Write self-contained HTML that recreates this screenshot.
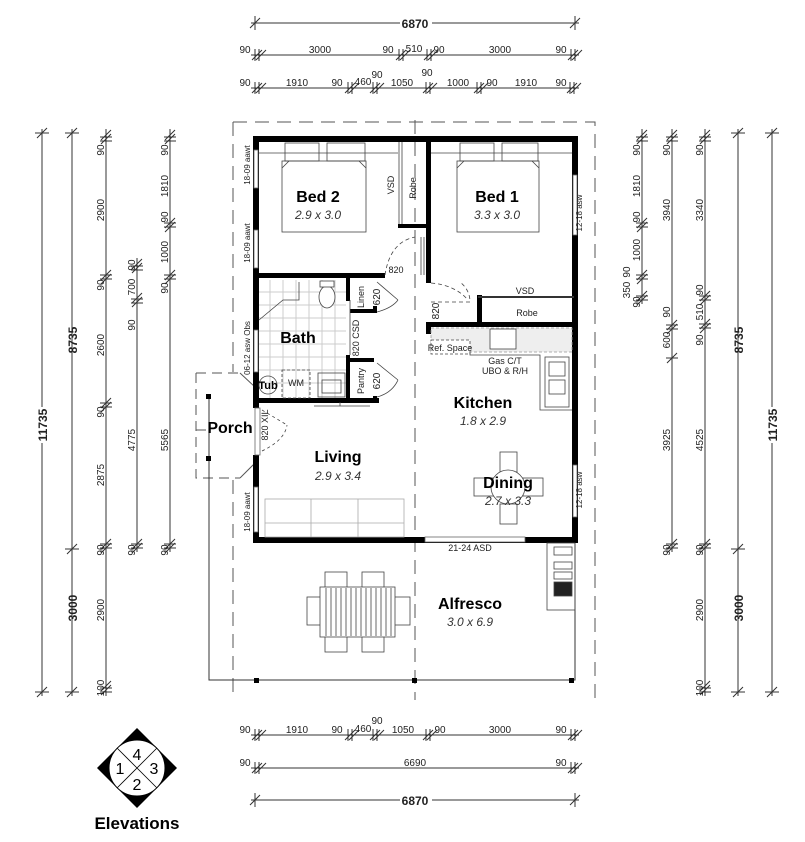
<!DOCTYPE html>
<html><head><meta charset="utf-8"><style>
html,body{margin:0;padding:0;background:#fff}
svg{display:block}
text{font-family:"Liberation Sans",sans-serif}
.d{font-size:10px;fill:#222}
.b{font-weight:bold;font-size:12px}
.r{font-weight:bold;font-size:16px;fill:#000}
.s{font-style:italic;font-size:12px;fill:#333}
.sm{font-size:9px;fill:#222}
</style></head><body>
<svg width="805" height="842" viewBox="0 0 805 842" xmlns="http://www.w3.org/2000/svg">
<g stroke="#333" stroke-width="1" fill="none">
<line x1="251" y1="23" x2="579" y2="23"/>
<path d="M250 28L260 18M255 16V30M570 28L580 18M575 16V30"/>
<line x1="251" y1="55" x2="579" y2="55"/>
<path d="M252 60L262 50M256 60L266 50M255 49V61M259 49V61 M396 60L406 50M400 60L410 50M399 49V61M403 49V61 M424 60L434 50M428 60L438 50M427 49V61M431 49V61 M568 60L578 50M572 60L582 50M571 49V61M575 49V61"/>
<line x1="251" y1="88" x2="579" y2="88"/>
<path d="M252 93L262 83M256 93L266 83M255 82V94M259 82V94 M345 93L355 83M349 93L359 83M348 82V94M352 82V94 M370 93L380 83M374 93L384 83M373 82V94M377 82V94 M423 93L433 83M427 93L437 83M426 82V94M430 82V94 M474 93L484 83M478 93L488 83M477 82V94M481 82V94 M567 93L577 83M571 93L581 83M570 82V94M574 82V94"/>
<line x1="251" y1="735" x2="579" y2="735"/>
<path d="M252 740L262 730M256 740L266 730M255 729V741M259 729V741 M345 740L355 730M349 740L359 730M348 729V741M352 729V741 M370 740L380 730M374 740L384 730M373 729V741M377 729V741 M423 740L433 730M427 740L437 730M426 729V741M430 729V741 M568 740L578 730M572 740L582 730M571 729V741M575 729V741"/>
<line x1="251" y1="768" x2="579" y2="768"/>
<path d="M252 773L262 763M256 773L266 763M255 762V774M259 762V774 M568 773L578 763M572 773L582 763M571 762V774M575 762V774"/>
<line x1="251" y1="800" x2="579" y2="800"/>
<path d="M250 805L260 795M255 793V807M570 805L580 795M575 793V807"/>
<line x1="42" y1="129" x2="42" y2="696"/>
<path d="M37 138L47 128M35 133H49M37 697L47 687M35 692H49"/>
<line x1="72" y1="129" x2="72" y2="696"/>
<path d="M67 138L77 128M65 133H79M67 554L77 544M65 549H79M67 697L77 687M65 692H79"/>
<line x1="106" y1="129" x2="106" y2="696"/>
<path d="M101 140L111 130M101 144L111 134M100 137H112M100 141H112 M101 280L111 270M101 284L111 274M100 275H112M100 279H112 M101 408L111 398M101 412L111 402M100 403H112M100 407H112 M101 549L111 539M101 553L111 543M100 544H112M100 548H112 M101 691L111 681M101 695L111 685M100 688H112M100 692H112"/>
<line x1="137" y1="258" x2="137" y2="552"/>
<path d="M132 269L142 259M132 273L142 263M131 266H143M131 270H143 M132 303L142 293M132 307L142 297M131 299H143M131 303H143 M132 549L142 539M132 553L142 543M131 544H143M131 548H143"/>
<line x1="170" y1="129" x2="170" y2="552"/>
<path d="M165 140L175 130M165 144L175 134M164 137H176M164 141H176 M165 228L175 218M165 232L175 222M164 223H176M164 227H176 M165 280L175 270M165 284L175 274M164 275H176M164 279H176 M165 549L175 539M165 553L175 543M164 544H176M164 548H176"/>
<line x1="642" y1="129" x2="642" y2="304"/>
<path d="M637 140L647 130M637 144L647 134M636 137H648M636 141H648 M637 228L647 218M637 232L647 222M636 223H648M636 227H648 M637 280L647 270M637 284L647 274M636 275H648M636 279H648 M637 301L647 291M637 305L647 295M636 296H648M636 300H648"/>
<line x1="672" y1="129" x2="672" y2="552"/>
<path d="M667 140L677 130M667 144L677 134M666 137H678M666 141H678 M667 330L677 320M667 334L677 324M666 325H678M666 329H678 M667 363L677 353M666 358H678 M667 549L677 539M667 553L677 543M666 544H678M666 548H678"/>
<line x1="705" y1="129" x2="705" y2="696"/>
<path d="M700 140L710 130M700 144L710 134M699 137H711M699 141H711 M700 301L710 291M700 305L710 295M699 296H711M699 300H711 M700 329L710 319M700 333L710 323M699 324H711M699 328H711 M700 549L710 539M700 553L710 543M699 544H711M699 548H711 M700 691L710 681M700 695L710 685M699 688H711M699 692H711"/>
<line x1="738" y1="129" x2="738" y2="696"/>
<path d="M733 138L743 128M731 133H745M733 554L743 544M731 549H745M733 697L743 687M731 692H745"/>
<line x1="772" y1="129" x2="772" y2="696"/>
<path d="M767 138L777 128M765 133H779M767 697L777 687M765 692H779"/>
</g>
<g class="d" text-anchor="middle">
<rect x="400" y="15" width="32" height="14" fill="#fff"/>
<text x="415" y="28" class="b">6870</text>
<text x="245" y="53">90</text><text x="320" y="53">3000</text><text x="388" y="53">90</text><text x="414" y="52">510</text><text x="439" y="53">90</text><text x="500" y="53">3000</text><text x="561" y="53">90</text>
<text x="245" y="86">90</text><text x="297" y="86">1910</text><text x="337" y="86">90</text><text x="363" y="85">460</text><text x="377" y="78">90</text><text x="402" y="86">1050</text><text x="427" y="76">90</text><text x="458" y="86">1000</text><text x="492" y="86">90</text><text x="526" y="86">1910</text><text x="561" y="86">90</text>
<text x="245" y="733">90</text><text x="297" y="733">1910</text><text x="337" y="733">90</text><text x="363" y="732">460</text><text x="377" y="724">90</text><text x="403" y="733">1050</text><text x="440" y="733">90</text><text x="500" y="733">3000</text><text x="561" y="733">90</text>
<text x="245" y="766">90</text><text x="415" y="766">6690</text><text x="561" y="766">90</text>
<rect x="400" y="792" width="32" height="14" fill="#fff"/>
<text x="415" y="805" class="b">6870</text>
</g>
<g class="d" text-anchor="middle">
<rect x="35" y="407" width="14" height="36" fill="#fff"/>
<text transform="translate(47,425) rotate(-90)" class="b">11735</text>
<text transform="translate(77,340) rotate(-90)" class="b">8735</text>
<text transform="translate(77,608) rotate(-90)" class="b">3000</text>
<text transform="translate(104,150) rotate(-90)">90</text><text transform="translate(104,210) rotate(-90)">2900</text><text transform="translate(104,285) rotate(-90)">90</text><text transform="translate(104,345) rotate(-90)">2600</text><text transform="translate(104,412) rotate(-90)">90</text><text transform="translate(104,475) rotate(-90)">2875</text><text transform="translate(104,550) rotate(-90)">90</text><text transform="translate(104,610) rotate(-90)">2900</text><text transform="translate(104,688) rotate(-90)">100</text>
<text transform="translate(135,265) rotate(-90)">90</text><text transform="translate(135,287) rotate(-90)">700</text><text transform="translate(135,325) rotate(-90)">90</text><text transform="translate(135,440) rotate(-90)">4775</text><text transform="translate(135,550) rotate(-90)">90</text>
<text transform="translate(168,150) rotate(-90)">90</text><text transform="translate(168,186) rotate(-90)">1810</text><text transform="translate(168,217) rotate(-90)">90</text><text transform="translate(168,252) rotate(-90)">1000</text><text transform="translate(168,288) rotate(-90)">90</text><text transform="translate(168,440) rotate(-90)">5565</text><text transform="translate(168,550) rotate(-90)">90</text>
<text transform="translate(640,150) rotate(-90)">90</text><text transform="translate(640,186) rotate(-90)">1810</text><text transform="translate(640,217) rotate(-90)">90</text><text transform="translate(640,250) rotate(-90)">1000</text><text transform="translate(630,272) rotate(-90)">90</text><text transform="translate(630,290) rotate(-90)">350</text><text transform="translate(640,302) rotate(-90)">90</text>
<text transform="translate(670,150) rotate(-90)">90</text><text transform="translate(670,210) rotate(-90)">3940</text><text transform="translate(670,312) rotate(-90)">90</text><text transform="translate(670,340) rotate(-90)">600</text><text transform="translate(670,440) rotate(-90)">3925</text><text transform="translate(670,550) rotate(-90)">90</text>
<text transform="translate(703,150) rotate(-90)">90</text><text transform="translate(703,210) rotate(-90)">3340</text><text transform="translate(703,290) rotate(-90)">90</text><text transform="translate(703,312) rotate(-90)">510</text><text transform="translate(703,340) rotate(-90)">90</text><text transform="translate(703,440) rotate(-90)">4525</text><text transform="translate(703,550) rotate(-90)">90</text><text transform="translate(703,610) rotate(-90)">2900</text><text transform="translate(703,688) rotate(-90)">100</text>
<text transform="translate(743,340) rotate(-90)" class="b">8735</text>
<text transform="translate(743,608) rotate(-90)" class="b">3000</text>
<rect x="765" y="407" width="14" height="36" fill="#fff"/>
<text transform="translate(777,425) rotate(-90)" class="b">11735</text>
</g>

<g fill="none" stroke="#555" stroke-width="1">
<path d="M233 122H595V700M233 122V372M233 480V700" stroke-dasharray="14,8"/>
<line x1="415" y1="120" x2="415" y2="700" stroke-dasharray="14,8"/>
<path d="M196 373H240M196 373V478H240M196 430H210" stroke-dasharray="10,6"/>
<line x1="240" y1="373" x2="255" y2="387"/>
<line x1="240" y1="478" x2="255" y2="463"/>
<path d="M209 396V680H575V540" stroke="#333"/>
</g>
<g fill="#000">
<rect x="206" y="394" width="5" height="5"/><rect x="206" y="456" width="5" height="5"/>
<rect x="254" y="678" width="5" height="5"/><rect x="412" y="678" width="5" height="5"/><rect x="569" y="678" width="5" height="5"/>
</g>
<g stroke="#ccc" stroke-width="1">
<path d="M270 280V398M283 280V398M296 280V398M309 280V398M322 280V398M335 280V398M259 292H346M259 305H346M259 318H346M259 331H346M259 344H346M259 357H346M259 370H346M259 383H346"/>
</g>
<g fill="#000">
<rect x="253" y="136" width="325" height="6"/>
<rect x="253" y="136" width="6" height="272"/>
<rect x="253" y="455" width="6" height="88"/>
<rect x="253" y="537" width="325" height="6"/>
<rect x="572" y="136" width="6" height="407"/>
<rect x="426" y="136" width="5" height="147"/>
<rect x="398" y="224" width="30" height="4"/>
<rect x="255" y="273" width="130" height="5"/>
<rect x="255" y="398" width="124" height="5"/>
<rect x="346" y="278" width="4" height="23"/>
<rect x="346" y="355" width="4" height="48"/>
<rect x="350" y="309" width="24" height="4"/>
<rect x="350" y="358" width="24" height="4"/>
<rect x="373" y="306" width="4" height="7"/>
<rect x="373" y="396" width="4" height="7"/>
<rect x="426" y="322" width="150" height="5"/>
<rect x="426" y="322" width="5" height="12"/>
<rect x="477" y="295" width="5" height="30"/>
<rect x="478" y="296" width="96" height="2" fill="#333"/>
</g>
<g fill="#fff" stroke="#666" stroke-width="0.8">
<rect x="254" y="150" width="4" height="38"/>
<rect x="254" y="230" width="4" height="38"/>
<rect x="254" y="330" width="4" height="42"/>
<rect x="254" y="487" width="4" height="45"/>
<rect x="573" y="175" width="4" height="60"/>
<rect x="573" y="465" width="4" height="52"/>
<rect x="425" y="537" width="100" height="5"/>
<rect x="255" y="408" width="5" height="47"/>
</g>
<g fill="none" stroke="#444" stroke-width="0.8">
<path d="M399 142V224M402 142V224"/>
<rect x="282" y="161" width="84" height="71"/><path d="M282 168L289 161M366 168L359 161"/>
<rect x="285" y="143" width="34" height="18"/><rect x="327" y="143" width="38" height="18"/>
<path d="M259 153H398"/>
<rect x="457" y="161" width="82" height="71"/><path d="M457 168L464 161M539 168L532 161"/>
<rect x="460" y="143" width="34" height="18"/><rect x="502" y="143" width="36" height="18"/>
<path d="M431 153H572"/>
<path d="M385 275 Q390 242 415 237" stroke-dasharray="4,3"/>
<path d="M421 237V275M424 237V275"/>
<path d="M431 302H470 Q470 290 460 282" stroke-dasharray="4,3"/>
<path d="M431 283 Q455 285 468 300" stroke-dasharray="4,3"/>
<path d="M377 282L398 300M377 312Q392 308 398 300" />
<path d="M377 363L398 380M377 397Q392 393 398 380"/>
<path d="M262 410L287 425M262 451Q285 440 287 425" stroke-dasharray="3,3"/>
<path d="M350 300V355"/>
<ellipse cx="327" cy="297" rx="8" ry="11" fill="#fff"/><rect x="320" y="281" width="14" height="6" fill="#fff"/>
<path d="M259 320L283 300H299V282"/>
<circle cx="268" cy="385" r="9"/>
<rect x="282" y="370" width="28" height="28" stroke-dasharray="3,2"/>
<rect x="318" y="373" width="27" height="24"/><rect x="322" y="380" width="19" height="13"/>
<path d="M314 406H370M340 402V406"/>
<rect x="431" y="328" width="141" height="24" fill="#eee" stroke="#999" stroke-dasharray="3,2"/>
<rect x="431" y="340" width="39" height="14" fill="#fff" stroke-dasharray="3,2"/>
<rect x="490" y="329" width="26" height="20" fill="#fff"/>
<path d="M470 352V355H540V410H572"/>
<rect x="545" y="357" width="24" height="50"/>
<rect x="549" y="362" width="16" height="14"/><rect x="549" y="380" width="16" height="14"/>
<rect x="265" y="499" width="139" height="38" stroke="#aaa"/>
<path d="M311 499V537M358 499V537M265 523H404" stroke="#aaa"/>
<rect x="500" y="452" width="17" height="20" fill="#fff"/>
<rect x="500" y="504" width="17" height="20" fill="#fff"/>
<rect x="474" y="478" width="20" height="18" fill="#fff"/>
<rect x="523" y="478" width="20" height="18" fill="#fff"/>
<circle cx="508" cy="487" r="17" fill="#fff"/>
<rect x="325" y="572" width="22" height="16"/><rect x="362" y="572" width="22" height="16"/>
<rect x="325" y="636" width="22" height="16"/><rect x="362" y="636" width="22" height="16"/>
<rect x="307" y="597" width="16" height="28"/><rect x="394" y="597" width="16" height="28"/>
<rect x="320" y="587" width="75" height="50" fill="#fff"/>
<path d="M326 588V636M331 588V636M336 588V636M341 588V636M346 588V636M351 588V636M356 588V636M361 588V636M366 588V636M371 588V636M376 588V636M381 588V636M386 588V636M391 588V636"/>
<rect x="547" y="543" width="28" height="67"/>
<rect x="554" y="547" width="18" height="8"/><rect x="554" y="562" width="18" height="7"/><rect x="554" y="572" width="18" height="7"/>
<rect x="554" y="582" width="18" height="14" fill="#222"/>
</g>
<g text-anchor="middle">
<text x="318" y="202" class="r">Bed 2</text><text x="318" y="219" class="s">2.9 x 3.0</text>
<text x="497" y="202" class="r">Bed 1</text><text x="497" y="219" class="s">3.3 x 3.0</text>
<text x="298" y="343" class="r" font-size="15">Bath</text>
<text x="483" y="408" class="r">Kitchen</text><text x="483" y="425" class="s">1.8 x 2.9</text>
<text x="338" y="462" class="r">Living</text><text x="338" y="480" class="s">2.9 x 3.4</text>
<text x="508" y="488" class="r">Dining</text><text x="508" y="505" class="s">2.7 x 3.3</text>
<text x="470" y="609" class="r">Alfresco</text><text x="470" y="626" class="s">3.0 x 6.9</text>
<text x="230" y="433" class="r" font-size="13">Porch</text>
<text x="268" y="389" font-size="11" font-weight="bold">Tub</text>
<text x="296" y="386" class="sm" font-size="7">WM</text>
<text x="470" y="551" class="sm">21-24 ASD</text>
<text x="450" y="351" class="sm" font-size="8">Ref. Space</text>
<text x="505" y="364" class="sm">Gas C/T</text><text x="505" y="374" class="sm">UBO &amp; R/H</text>
<text x="396" y="273" class="sm" font-size="10">820</text>
<text x="525" y="294" class="sm">VSD</text><text x="527" y="316" class="sm">Robe</text>
</g>
<g class="sm" text-anchor="middle">
<text transform="translate(250,165) rotate(-90)" font-size="8">18-09 aawt</text>
<text transform="translate(250,243) rotate(-90)" font-size="8">18-09 aawt</text>
<text transform="translate(250,348) rotate(-90)" font-size="8">06-12 asw Obs</text>
<text transform="translate(250,512) rotate(-90)" font-size="8">18-09 aawt</text>
<text transform="translate(582,213) rotate(-90)" font-size="8">12-18 asw</text>
<text transform="translate(582,490) rotate(-90)" font-size="8">12-18 asw</text>
<text transform="translate(268,425) rotate(-90)">820 XIL</text>
<text transform="translate(359,338) rotate(-90)">820 CSD</text>
<text transform="translate(364,297) rotate(-90)">Linen</text>
<text transform="translate(380,297) rotate(-90)" font-size="10">620</text>
<text transform="translate(364,381) rotate(-90)">Pantry</text>
<text transform="translate(380,381) rotate(-90)" font-size="10">620</text>
<text transform="translate(394,185) rotate(-90)">VSD</text>
<text transform="translate(416,188) rotate(-90)">Robe</text>
<text transform="translate(439,311) rotate(-90)" font-size="10">820</text>
</g>
<polygon points="137,728 177,768 137,808 97,768" fill="#000"/>
<circle cx="137" cy="768" r="28" fill="#fff" stroke="#000"/>
<path d="M117 748L157 788M157 748L117 788" stroke="#000" stroke-width="0.8"/>
<g font-size="16" text-anchor="middle" fill="#000">
<text x="137" y="760">4</text><text x="120" y="774">1</text><text x="154" y="774">3</text><text x="137" y="790">2</text>
</g>
<text x="137" y="829" text-anchor="middle" font-size="17" font-weight="bold">Elevations</text>
</svg>
</body></html>
